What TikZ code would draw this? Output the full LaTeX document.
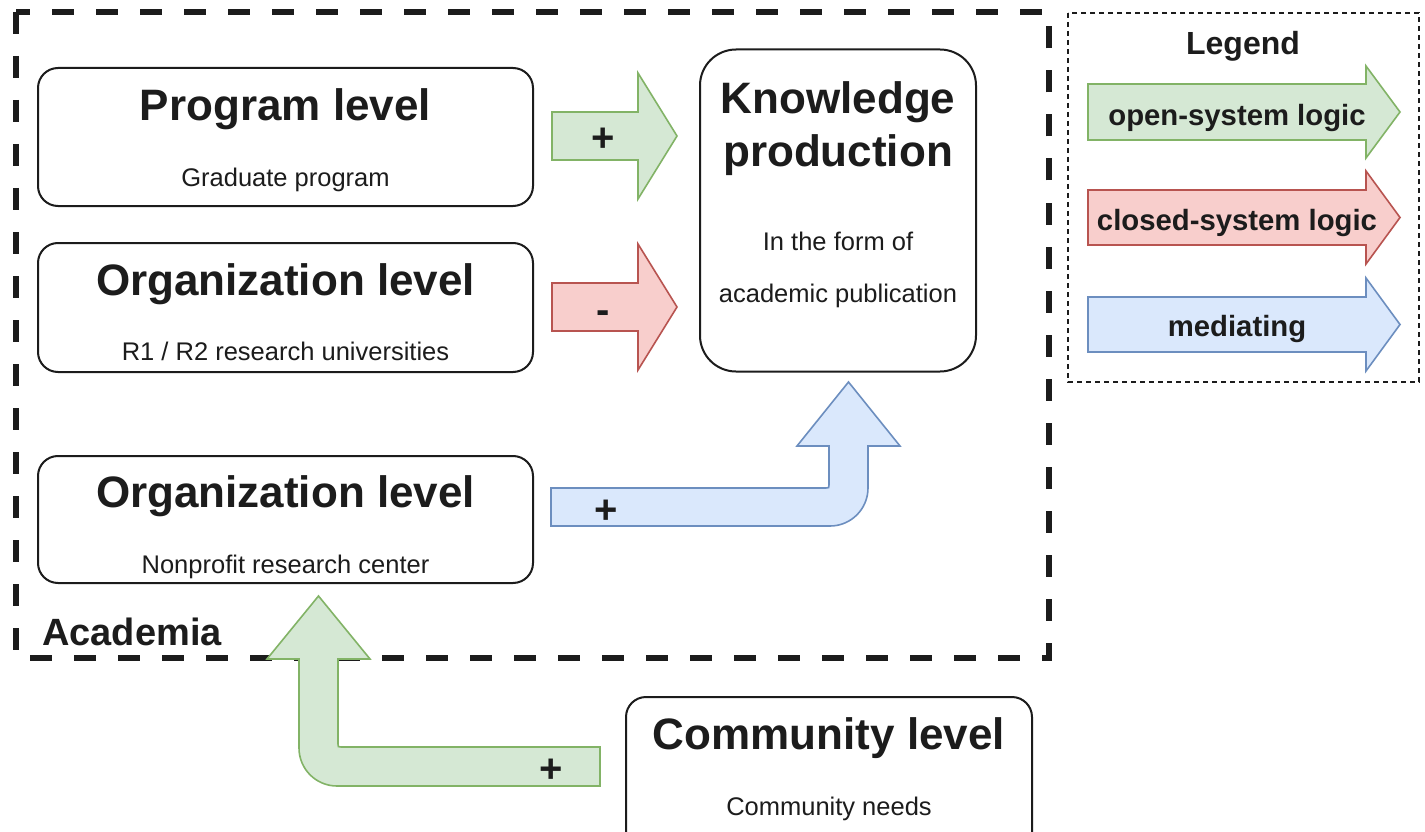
\documentclass[tikz,border=0pt]{standalone}
\usepackage{fontspec}
\setmainfont{Liberation Sans}
\definecolor{txt}{HTML}{1C1C1C}
\definecolor{gfill}{HTML}{D5E8D4}\definecolor{gline}{HTML}{82B366}
\definecolor{rfill}{HTML}{F8CECC}\definecolor{rline}{HTML}{B85450}
\definecolor{bfill}{HTML}{DAE8FC}\definecolor{bline}{HTML}{6C8EBF}
\newcommand\ftitle{\fontsize{44}{50}\selectfont\bfseries}
\newcommand\fsub{\fontsize{25.5}{30}\selectfont}
\newcommand\flegend{\fontsize{29.3}{34}\selectfont\bfseries}
\newcommand\fsign{\fontsize{40}{44}\selectfont\bfseries}
\tikzset{
  levelbox/.style={draw=txt, line width=2pt, rounded corners=20pt, inner sep=0pt},
  lbl/.style={anchor=base, inner sep=0pt, text=txt},
  garrow/.style={fill=gfill, draw=gline, line width=1.6pt, line join=miter},
  rarrow/.style={fill=rfill, draw=rline, line width=1.6pt, line join=miter},
  barrow/.style={fill=bfill, draw=bline, line width=1.6pt, line join=miter},
}
\begin{document}
\begin{tikzpicture}[x=1pt,y=-1pt]
\path[use as bounding box, clip] (0,0) rectangle (1425,832);
\fill[white] (0,0) rectangle (1425,832);

% Academia dashed frame
\draw[txt, line width=6pt, dash pattern=on 22pt off 22pt] (15.5,12) rectangle (1049,657.5);
\node[lbl, font=\fontsize{38}{42}\selectfont\bfseries, anchor=base west] (academia) at (42,645) {Academia};

% Boxes
\node[levelbox, minimum width=495pt, minimum height=138pt] (prog) at (285.5,137) {};
\node[levelbox, minimum width=495pt, minimum height=129pt] (org1) at (285.5,307.5) {};
\node[levelbox, minimum width=495pt, minimum height=127pt] (org2) at (285.5,519.5) {};
\node[levelbox, rounded corners=36pt, minimum width=276pt, minimum height=322pt] (know) at (838,210.5) {};
\node[levelbox, minimum width=406pt, minimum height=180pt] (comm) at (829,787) {};

% Box texts
\node[lbl, font=\ftitle] (progT) at (285.5,121) {Program level};
\node[lbl, font=\fsub] (progS) at (285.5,186) {Graduate program};
\node[lbl, font=\ftitle] (org1T) at (285.5,295) {Organization level};
\node[lbl, font=\fsub] (org1S) at (285.5,360) {R1 / R2 research universities};
\node[lbl, font=\ftitle] (org2T) at (285.5,507) {Organization level};
\node[lbl, font=\fsub] (org2S) at (285.5,573) {Nonprofit research center};
\node[lbl, font=\ftitle] (knowT1) at (838,114) {Knowledge};
\node[lbl, font=\ftitle] (knowT2) at (838,167) {production};
\node[lbl, font=\fsub] (knowS1) at (838,250) {In the form of};
\node[lbl, font=\fsub] (knowS2) at (838,302) {academic publication};
\node[lbl, font=\ftitle] (commT) at (829,749) {Community level};
\node[lbl, font=\fsub] (commS) at (829,815) {Community needs};

% Straight block arrows
\draw[garrow] (552,112) -- (638,112) -- (638,73) -- (677,136) -- (638,199) -- (638,160) -- (552,160) -- cycle;
\node[lbl, font=\fsign] (plus1) at (603,152) {+};
\draw[rarrow] (552,283) -- (638,283) -- (638,244) -- (677,307) -- (638,370) -- (638,331) -- (552,331) -- cycle;
\node[lbl, font=\fsign] (minus1) at (603,323) {-};

% Blue bent arrow (mediating)
\draw[barrow] (551,488) -- (826,488) .. controls (829,488) .. (829,485) -- (829,446) -- (797,446) -- (848.5,382) -- (900,446) -- (868,446) -- (868,488) .. controls (868,509) and (851,526) .. (830,526) -- (551,526) -- cycle;
\node[lbl, font=\fsign] (plus2) at (606,523) {+};

% Green bent arrow (community -> nonprofit)
\draw[garrow] (600,747) -- (341,747) .. controls (338,747) .. (338,744) -- (338,659) -- (370,659) -- (318.5,596) -- (267,659) -- (299,659) -- (299,748) .. controls (299,769) and (316,786) .. (337,786) -- (600,786) -- cycle;
\node[lbl, font=\fsign] (plus3) at (551,782) {+};

% Legend
\draw[txt, line width=1.3pt, dash pattern=on 5pt off 4pt] (1068,13) rectangle (1419,382);
\node[lbl, font=\fontsize{32}{36}\selectfont\bfseries] (legT) at (1243,55) {Legend};
\draw[garrow] (1088,84) -- (1366,84) -- (1366,66) -- (1400,112) -- (1366,158) -- (1366,140) -- (1088,140) -- cycle;
\node[lbl, font=\flegend] (legG) at (1237,126) {open-system logic};
\draw[rarrow] (1088,190) -- (1366,190) -- (1366,171) -- (1400,217.5) -- (1366,264) -- (1366,245) -- (1088,245) -- cycle;
\node[lbl, font=\flegend] (legR) at (1237,230) {closed-system logic};
\draw[barrow] (1088,297) -- (1366,297) -- (1366,278) -- (1400,324.5) -- (1366,371) -- (1366,352) -- (1088,352) -- cycle;
\node[lbl, font=\flegend] (legB) at (1237,336) {mediating};
\end{tikzpicture}
\end{document}
